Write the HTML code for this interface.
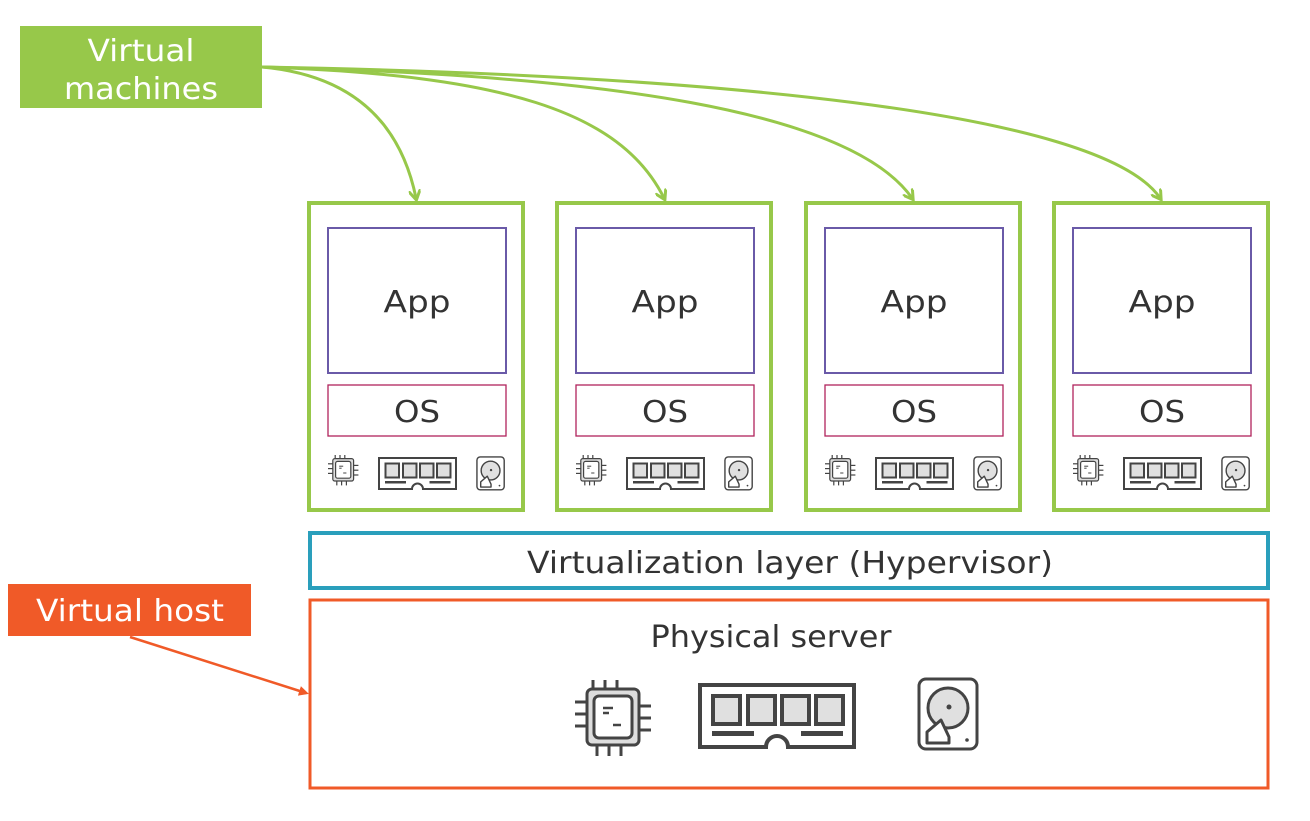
<!DOCTYPE html>
<html><head><style>body{margin:0;background:#fff}</style></head><body>
<svg width="1310" height="816" viewBox="0 0 1310 816" xmlns="http://www.w3.org/2000/svg" font-family="DejaVu Sans, Liberation Sans, sans-serif">
<defs>
<g id="cpu">
 <g stroke="#444" stroke-width="3">
  <line x1="18" y1="0" x2="18" y2="12"/><line x1="30" y1="0" x2="30" y2="12"/><line x1="42" y1="0" x2="42" y2="12"/>
  <line x1="22" y1="64" x2="22" y2="76"/><line x1="34" y1="64" x2="34" y2="76"/><line x1="46" y1="64" x2="46" y2="76"/>
  <line x1="0" y1="22" x2="12" y2="22"/><line x1="0" y1="34" x2="12" y2="34"/><line x1="0" y1="46" x2="12" y2="46"/>
  <line x1="64" y1="26" x2="76" y2="26"/><line x1="64" y1="38" x2="76" y2="38"/><line x1="64" y1="50" x2="76" y2="50"/>
 </g>
 <rect x="12" y="9" width="52" height="56" rx="5" fill="#ddd" stroke="#444" stroke-width="3"/>
 <rect x="19" y="16" width="38" height="42" rx="5" fill="#fff" stroke="#444" stroke-width="3"/>
 <g stroke="#444" stroke-width="2.5"><line x1="28" y1="28" x2="38" y2="28"/><line x1="28" y1="33" x2="34" y2="33"/><line x1="38" y1="45" x2="46" y2="45"/></g>
</g>
<g id="ram">
 <path d="M2 2H156V64H90A10 10 0 0 0 68 64H2Z" fill="#fff" stroke="#444" stroke-width="4"/>
 <g fill="#e0e0e0" stroke="#444" stroke-width="4">
  <rect x="15" y="13" width="27" height="28"/><rect x="50" y="13" width="27" height="28"/><rect x="84" y="13" width="27" height="28"/><rect x="118" y="13" width="27" height="28"/>
 </g>
 <rect x="14" y="48" width="42" height="5" fill="#444"/><rect x="103" y="48" width="42" height="5" fill="#444"/>
</g>
<g id="hdd">
 <rect x="2" y="2" width="58" height="70" rx="7" fill="#fff" stroke="#444" stroke-width="3"/>
 <circle cx="31" cy="31" r="20" fill="#e0e0e0" stroke="#444" stroke-width="3"/>
 <circle cx="32" cy="30" r="2.5" fill="#444"/>
 <path d="M24 43L10 55V66H32V60Z" fill="#fff" stroke="#444" stroke-width="3" stroke-linejoin="round"/>
 <circle cx="50" cy="63" r="1.8" fill="#444"/>
</g>
<g id="vm">
 <rect x="0" y="0" width="214" height="307" fill="#fff" stroke="#97c84a" stroke-width="4"/>
 <rect x="19" y="25" width="178" height="145" fill="none" stroke="#6a5aa8" stroke-width="2"/>
 <rect x="19" y="182" width="178" height="51" fill="none" stroke="#b0245c" stroke-width="1.3"/>
 <text x="108" y="109" text-anchor="middle" font-size="30" fill="#333" textLength="67" lengthAdjust="spacingAndGlyphs">App</text>
 <text x="108" y="219" text-anchor="middle" font-size="30" fill="#333" textLength="46" lengthAdjust="spacingAndGlyphs">OS</text>
 <use href="#cpu" transform="translate(19,252) scale(0.4)"/>
 <use href="#ram" transform="translate(69,254) scale(0.5)"/>
 <use href="#hdd" transform="translate(167,253) scale(0.47)"/>
</g>
<marker id="ag" markerWidth="12" markerHeight="12" refX="8" refY="6" orient="auto" markerUnits="userSpaceOnUse"><path d="M0 0L10 6L0 12" fill="none" stroke="#97c84a" stroke-width="3"/></marker>
<marker id="ao" markerWidth="10" markerHeight="10" refX="7" refY="5" orient="auto" markerUnits="userSpaceOnUse"><path d="M0 0L10 5L0 10Z" fill="#f05a28"/></marker>
</defs>

<rect x="20" y="26" width="242" height="82" fill="#97c84a"/>
<text x="141" y="61" text-anchor="middle" font-size="30" fill="#fff" textLength="107" lengthAdjust="spacingAndGlyphs">Virtual</text>
<text x="141" y="99" text-anchor="middle" font-size="30" fill="#fff" textLength="154" lengthAdjust="spacingAndGlyphs">machines</text>

<g fill="none" stroke="#97c84a" stroke-width="3">
 <path d="M262 67C350 75 400 120 416 198" marker-end="url(#ag)"/>
 <path d="M262 67C500 75 620 110 664 198" marker-end="url(#ag)"/>
 <path d="M262 67C600 75 850 110 912 198" marker-end="url(#ag)"/>
 <path d="M262 67C700 75 1100 110 1160 198" marker-end="url(#ag)"/>
</g>

<use href="#vm" transform="translate(309,203)"/>
<use href="#vm" transform="translate(557,203)"/>
<use href="#vm" transform="translate(806,203)"/>
<use href="#vm" transform="translate(1054,203)"/>

<rect x="310" y="533" width="958" height="55" fill="#fff" stroke="#2a9fbc" stroke-width="4"/>
<text x="790" y="573" text-anchor="middle" font-size="30" fill="#333" textLength="526" lengthAdjust="spacingAndGlyphs">Virtualization layer (Hypervisor)</text>

<rect x="310" y="600" width="958" height="188" fill="#fff" stroke="#f05a28" stroke-width="3"/>
<text x="771" y="647" text-anchor="middle" font-size="30" fill="#333" textLength="241" lengthAdjust="spacingAndGlyphs">Physical server</text>
<use href="#cpu" transform="translate(575,680)"/>
<use href="#ram" transform="translate(698,683)"/>
<use href="#hdd" transform="translate(917,677)"/>

<rect x="8" y="584" width="243" height="52" fill="#f05a28"/>
<text x="130" y="621" text-anchor="middle" font-size="30" fill="#fff" textLength="188" lengthAdjust="spacingAndGlyphs">Virtual host</text>
<line x1="130" y1="637" x2="306" y2="693" stroke="#f05a28" stroke-width="2.5" marker-end="url(#ao)"/>
</svg>
</body></html>
